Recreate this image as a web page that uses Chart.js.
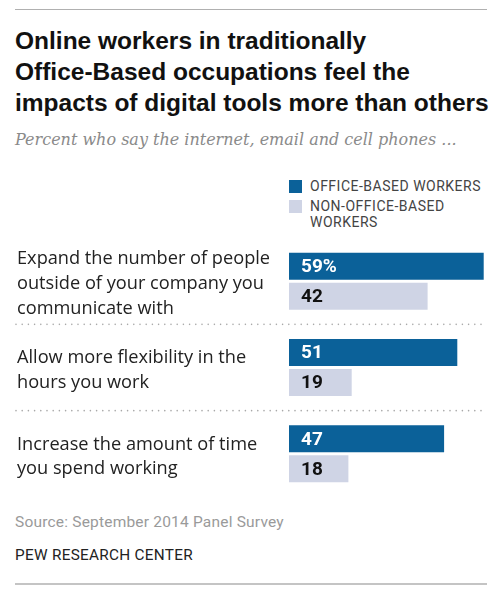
<!DOCTYPE html>
<html>
<head>
<meta charset="utf-8">
<script src="https://cdn.jsdelivr.net/npm/chart.js@4/dist/chart.umd.min.js"></script>
<style>
  body { margin:0; background:#fff; width:500px; height:595px; position:relative; overflow:hidden; font-family:Roboto, sans-serif; }
  .rule { position:absolute; left:15px; width:472px; }
  #titulo { position:absolute; left:15px; top:25px; font-family:"Liberation Sans", Arial, sans-serif; font-weight:700; font-size:24.5px; line-height:31px; color:#111; }
  #subtitulo { position:absolute; left:15px; top:130px; font-family:"DejaVu Serif", serif; font-style:italic; font-size:16px; color:#8a8a8a; }
  #leyenda { position:absolute; left:289px; top:178px; font-size:14px; color:#444; letter-spacing:0.5px; }
  #leyenda div { position:relative; padding-left:21px; line-height:16px; margin-bottom:4px; }
  #leyenda span { position:absolute; left:0; top:2px; width:13px; height:13px; }
  #grafico-box { position:absolute; left:0; top:230px; width:500px; height:270px; }
  #fuente { position:absolute; left:15px; top:513px; font-size:15.5px; color:#9a9a9a; letter-spacing:0.2px; }
  #pew { position:absolute; left:15px; top:546px; font-size:15.3px; color:#222; letter-spacing:0.3px; }
</style>
</head>
<body>
<div class="rule" style="top:9px;border-top:1.5px solid #b0b0b0"></div>
<div id="titulo">Online workers in traditionally<br>Office-Based occupations feel the<br>impacts of digital tools more than others</div>
<div id="subtitulo">Percent who say the internet, email and cell phones ...</div>
<div id="leyenda"></div>
<div id="grafico-box"><canvas id="grafico"></canvas></div>
<div id="fuente">Source: September 2014 Panel Survey</div>
<div id="pew">PEW RESEARCH CENTER</div>
<div class="rule" style="top:583px;border-top:2px solid #c4c4c4"></div>

<script>
//DATOS
const categorias=[
    ['Expand the number of people','outside of your company you','communicate with'],
    ['Allow more flexibility in the','hours you work'],
    ['Increase the amount of time','you spend working']
];
const series=['OFFICE-BASED WORKERS','NON-OFFICE-BASED WORKERS'];
const oficina=[59,51,47];
const noOficina=[42,19,18];
const colores=['#0b6199','#cfd4e5'];
const coloresTexto=['#ffffff','#111111'];

//LEYENDA
let leyenda=document.querySelector('#leyenda');
series.forEach(function(nombre,i){
    let fila=document.createElement('div');
    let cuadro=document.createElement('span');
    cuadro.style.background=colores[i];
    fila.appendChild(cuadro);
    let texto=nombre;
    if(i==1){ texto='NON-OFFICE-BASED<br>WORKERS'; }
    fila.insertAdjacentHTML('beforeend',texto);
    leyenda.appendChild(fila);
});

//LINEAS PUNTEADAS ENTRE GRUPOS
const separadores={
    id:'separadores',
    afterDraw(chart){
        const ctx=chart.ctx;
        const y=chart.scales.y;
        ctx.save();
        ctx.strokeStyle='#a8a8a8';
        ctx.lineWidth=1.6;
        ctx.lineCap='round';
        ctx.setLineDash([0,6.2]);
        for(let i=0;i<categorias.length-1;i++){
            const py=(y.getPixelForValue(i)+y.getPixelForValue(i+1))/2;
            ctx.beginPath();
            ctx.moveTo(16,py);
            ctx.lineTo(chart.chartArea.right-4,py);
            ctx.stroke();
        }
        ctx.restore();
    }
};

//ETIQUETAS DENTRO DE LAS BARRAS
const etiquetas={
    id:'etiquetas',
    afterDatasetsDraw(chart){
        const ctx=chart.ctx;
        ctx.save();
        ctx.font='bold 19px Roboto, sans-serif';
        ctx.textBaseline='middle';
        ctx.textAlign='left';
        chart.data.datasets.forEach(function(ds,d){
            chart.getDatasetMeta(d).data.forEach(function(barra,i){
                let txt=String(ds.data[i]);
                if(d==0 && i==0){ txt+='%'; }
                ctx.fillStyle=coloresTexto[d];
                ctx.fillText(txt,barra.base+12,barra.y+1);
            });
        });
        ctx.restore();
    }
};

const canvas=document.querySelector('#grafico');
const miGrafico=new Chart(canvas,{
    type:'bar',
    data:{
        labels:categorias,
        datasets:[
            {label:series[0],data:oficina,backgroundColor:colores[0],categoryPercentage:0.694,barPercentage:0.9},
            {label:series[1],data:noOficina,backgroundColor:colores[1],categoryPercentage:0.694,barPercentage:0.9}
        ]
    },
    options:{
        indexAxis:'y',
        responsive:true,
        maintainAspectRatio:false,
        animation:false,
        layout:{padding:{top:8,bottom:3,left:17,right:13}},
        plugins:{legend:{display:false},tooltip:{enabled:false}},
        scales:{
            x:{display:false,min:0,max:60},
            y:{
                grid:{display:false},
                border:{display:false},
                afterFit(scale){
                    scale.width=272;
                    scale.paddingTop=0;
                    scale.paddingBottom=0;
                },
                ticks:{
                    crossAlign:'far',
                    color:'#222',
                    padding:0,
                    labelOffset:3,
                    font:{family:'"Open Sans", sans-serif',size:18.2,lineHeight:1.37}
                }
            }
        }
    },
    plugins:[separadores,etiquetas]
});
</script>
</body>
</html>
